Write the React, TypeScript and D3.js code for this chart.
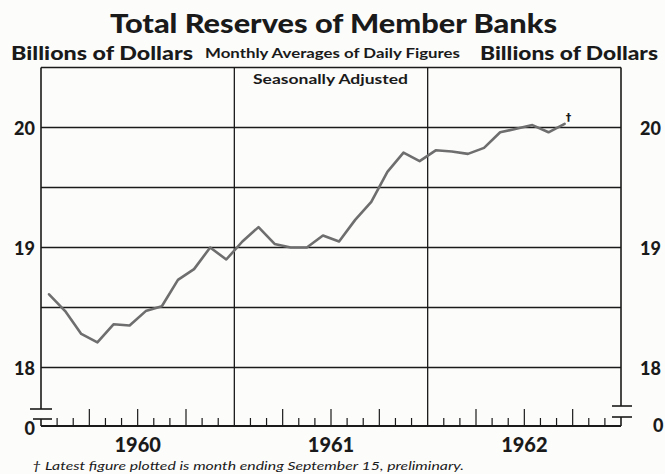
import React, { useEffect } from 'react';
import * as d3 from 'd3';

// Total reserves of member banks, billions of dollars, monthly (Jan 1960 - Sep 1962)
const values1960 = [18.61, 18.47, 18.28, 18.21, 18.36, 18.35, 18.47, 18.51, 18.73, 18.82, 19.0, 18.9];
const values1961 = [19.05, 19.17, 19.03, 19.0, 19.0, 19.1, 19.05, 19.23, 19.38, 19.63, 19.79, 19.72];
const values1962 = [19.81, 19.8, 19.78, 19.83, 19.96, 19.99, 20.02, 19.96, 20.03];
const yearLabels = ['1960', '1961', '1962'];
const yTickValues = [18, 19, 20];
const gridValues = [18, 18.5, 19, 19.5, 20];

const FONT = 'Lato, "DejaVu Sans", sans-serif';

export default function App() {
  useEffect(() => {
    document.body.style.margin = '0';
  }, []);

  const W = 665;
  const H = 474;
  const left = 41;
  const right = 621;
  const base = 426;

  const x = d3.scaleLinear().domain([0, 36]).range([left, right]);
  const y = d3.scaleLinear().domain([18, 20]).range([367.5, 127.5]);
  const top = y(20.5);

  const values = [...values1960, ...values1961, ...values1962];
  const pts: [number, number][] = values.map((v, i) => [x(i + 0.5), y(v)]);
  const linePath = d3.line()(pts) || '';
  const last = pts[pts.length - 1];

  const months = d3.range(1, 36).filter((m) => m % 12 !== 0);
  const ink = '#1a1a1a';

  return (
    <svg width={W} height={H} style={{ position: 'absolute', left: 0, top: 0, display: 'block' }}>
      <rect x={0} y={0} width={W} height={H} fill="#fcfcfb" />
      {/* titles */}
      <text x={110} y={33} fontFamily={FONT} fontWeight="900" fontSize={27} fill={ink}
        textLength={447} lengthAdjust="spacingAndGlyphs">Total Reserves of Member Banks</text>
      <text x={11} y={60} fontFamily={FONT} fontWeight="900" fontSize={19} fill={ink}
        textLength={182} lengthAdjust="spacingAndGlyphs">Billions of Dollars</text>
      <text x={205} y={58} fontFamily={FONT} fontWeight="bold" fontSize={13} fill={ink}
        textLength={255} lengthAdjust="spacingAndGlyphs">Monthly Averages of Daily Figures</text>
      <text x={480} y={60} fontFamily={FONT} fontWeight="900" fontSize={19} fill={ink}
        textLength={178} lengthAdjust="spacingAndGlyphs">Billions of Dollars</text>
      <text x={253} y={84} fontFamily={FONT} fontWeight="bold" fontSize={13} fill={ink}
        textLength={155} lengthAdjust="spacingAndGlyphs">Seasonally Adjusted</text>

      {/* grid lines */}
      {gridValues.map((v) => (
        <line key={v} x1={left} x2={right} y1={y(v)} y2={y(v)} stroke={ink} strokeWidth={1.3} />
      ))}
      {/* top border */}
      <line x1={left} x2={right} y1={top} y2={top} stroke={ink} strokeWidth={1.6} />
      {/* year separators */}
      {[12, 24].map((m) => (
        <line key={m} x1={x(m)} x2={x(m)} y1={top} y2={base} stroke={ink} strokeWidth={1.3} />
      ))}
      {/* left border with break */}
      <line x1={left} x2={left} y1={top} y2={409} stroke={ink} strokeWidth={1.6} />
      <line x1={30} x2={52} y1={409} y2={409} stroke={ink} strokeWidth={1.6} />
      <line x1={33} x2={52} y1={419} y2={419} stroke={ink} strokeWidth={1.6} />
      <line x1={left} x2={left} y1={419} y2={base} stroke={ink} strokeWidth={1.6} />
      {/* right border with break */}
      <line x1={right} x2={right} y1={top} y2={406} stroke={ink} strokeWidth={1.6} />
      <line x1={612} x2={632} y1={406} y2={406} stroke={ink} strokeWidth={1.6} />
      <line x1={612} x2={632} y1={417} y2={417} stroke={ink} strokeWidth={1.6} />
      <line x1={right} x2={right} y1={417} y2={base} stroke={ink} strokeWidth={1.6} />
      {/* baseline */}
      <line x1={left} x2={right} y1={base} y2={base} stroke={ink} strokeWidth={1.8} />
      {/* month ticks */}
      {months.map((m) => (
        <line key={m} x1={x(m)} x2={x(m)} y1={base} y2={base - (m % 3 === 0 ? 17 : 8)}
          stroke={ink} strokeWidth={1.2} />
      ))}

      {/* y labels */}
      {yTickValues.map((v) => (
        <g key={v}>
          <text x={35} y={y(v) + 7} textAnchor="end" fontFamily={FONT} fontWeight="900" fontSize={18} fill={ink}>{v}</text>
          <text x={640} y={y(v) + 7} textAnchor="start" fontFamily={FONT} fontWeight="900" fontSize={18} fill={ink}>{v}</text>
        </g>
      ))}
      <text x={35} y={435} textAnchor="end" fontFamily={FONT} fontWeight="900" fontSize={18} fill={ink}>0</text>
      <text x={653} y={432} textAnchor="start" fontFamily={FONT} fontWeight="900" fontSize={18} fill={ink}>0</text>

      {/* year labels */}
      {yearLabels.map((lab, i) => (
        <text key={lab} x={x(i * 12 + 6)} y={452} textAnchor="middle" fontFamily={FONT} fontWeight="900"
          fontSize={20} fill={ink}>{lab}</text>
      ))}

      {/* data line */}
      <path d={linePath} fill="none" stroke="#6e6e6e" strokeWidth={2.6} strokeLinejoin="round" strokeLinecap="round" />
      <text x={last[0] + 4} y={last[1] - 3} textAnchor="middle" fontFamily='"DejaVu Sans", sans-serif'
        fontWeight="bold" fontSize={11} fill={ink}>†</text>

      {/* footnote */}
      <text x={32} y={470} fontFamily={FONT} fontStyle="italic" fontSize={11} fill={ink}
        textLength={432} lengthAdjust="spacingAndGlyphs">† Latest figure plotted is month ending September 15, preliminary.</text>
    </svg>
  );
}
